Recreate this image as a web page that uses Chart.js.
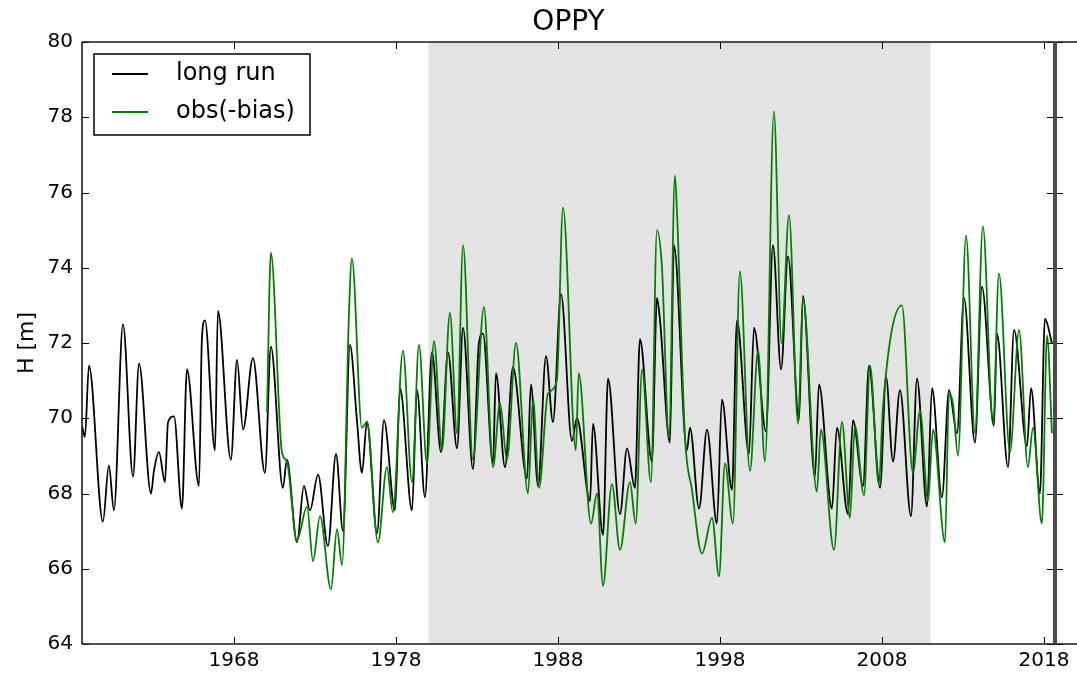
<!DOCTYPE html>
<html>
<head>
<meta charset="utf-8">
<title>OPPY</title>
<script src="https://cdn.jsdelivr.net/npm/chart.js@4/dist/chart.umd.min.js"></script>
<style>
  html, body { margin: 0; padding: 0; background: #fff; }
  #wrap { width: 1077px; height: 673px; }
</style>
</head>
<body>
<div id="wrap"><canvas id="chart" width="1077" height="673"></canvas></div>
<script>
const stationName = 'OPPY';
const yLabel = 'H [m]';
const xTickYears = [1968, 1978, 1988, 1998, 2008, 2018];
const yTicks = [64, 66, 68, 70, 72, 74, 76, 78, 80];
const xMin = 1958.62;
const xMax = 2018.68;
const shadeStart = 1980.0; // grey calibration period
const shadeEnd = 2011.0;

const longRunYears = [
  1958.62, 1958.80, 1959.05, 1959.91, 1960.28, 1960.59, 1961.15, 1961.77, 1962.14, 1962.88,
  1963.06, 1963.37, 1963.74, 1963.93, 1964.30, 1964.79, 1965.10, 1965.84, 1966.02, 1966.21,
  1966.83, 1967.01, 1967.81, 1968.19, 1968.56, 1969.17, 1969.91, 1970.28, 1971.02, 1971.27,
  1971.89, 1972.32, 1972.69, 1973.19, 1973.80, 1974.30, 1974.73, 1975.16, 1975.59, 1975.90,
  1976.21, 1976.83, 1977.26, 1977.94, 1978.25, 1978.99, 1979.30, 1979.79, 1980.22, 1980.78,
  1981.21, 1981.77, 1982.14, 1982.75, 1983.12, 1983.37, 1983.99, 1984.17, 1984.73, 1985.22,
  1986.09, 1986.33, 1986.77, 1987.26, 1987.69, 1988.19, 1988.86, 1989.17, 1989.98, 1990.16,
  1990.78, 1991.09, 1991.83, 1992.26, 1992.75, 1993.06, 1993.80, 1994.11, 1994.30, 1994.91,
  1995.16, 1995.96, 1996.15, 1996.71, 1997.20, 1997.81, 1998.12, 1998.74, 1999.05, 1999.79,
  2000.10, 2000.84, 2001.27, 2001.77, 2002.20, 2002.88, 2003.12, 2003.86, 2004.11, 2004.91,
  2005.22, 2005.90, 2006.21, 2006.83, 2007.20, 2007.88, 2008.25, 2008.68, 2009.11, 2009.79,
  2010.16, 2010.78, 2011.09, 2011.70, 2012.14, 2012.63, 2013.06, 2013.74, 2014.17, 2014.91,
  2015.10, 2015.78, 2016.15, 2016.95, 2017.20, 2017.75, 2018.06, 2018.49
];
const longRunLevels = [
  69.8, 69.5, 71.4, 67.25, 68.75, 67.55, 72.5, 68.45, 71.45, 68.0,
  68.6, 69.1, 68.3, 69.9, 70.05, 67.6, 71.3, 68.2, 72.1, 72.6,
  69.15, 72.85, 68.9, 71.55, 69.7, 71.6, 68.55, 71.9, 68.15, 68.9,
  66.7, 68.2, 67.55, 68.5, 66.6, 69.05, 67.0, 71.95, 69.95, 68.55,
  69.9, 66.95, 69.95, 67.55, 70.8, 67.55, 70.75, 67.9, 71.75, 69.1,
  71.75, 69.2, 72.4, 68.65, 72.0, 72.25, 68.8, 71.2, 68.7, 71.35,
  68.4, 70.9, 68.2, 71.65, 69.9, 73.3, 69.4, 70.0, 67.8, 69.85,
  66.9, 71.05, 67.45, 69.2, 68.15, 72.1, 68.85, 73.2, 72.6, 69.35,
  74.6, 69.15, 69.75, 67.6, 69.7, 67.2, 70.5, 68.1, 72.6, 69.05,
  72.4, 69.65, 74.6, 71.3, 74.3, 69.95, 73.25, 68.45, 70.9, 67.6,
  69.75, 67.45, 69.95, 68.2, 71.4, 68.15, 71.1, 68.85, 70.75, 67.4,
  71.05, 67.65, 70.8, 67.9, 70.75, 69.6, 73.2, 69.35, 73.5, 69.8,
  72.25, 68.7, 72.35, 69.25, 70.8, 68.0, 72.65, 72.0
];

// observations minus bias
const obsYears = [
  1970.04, 1970.28, 1970.96, 1971.27, 1971.89, 1972.51, 1972.88, 1973.31, 1973.99, 1974.36,
  1974.67, 1975.10, 1975.28, 1975.90, 1976.21, 1976.89, 1977.44, 1977.81, 1978.43, 1978.99,
  1979.42, 1979.91, 1980.35, 1980.84, 1981.33, 1981.77, 1982.14, 1982.75, 1983.43, 1983.99,
  1984.42, 1984.85, 1985.41, 1986.15, 1986.46, 1986.83, 1987.38, 1987.93, 1988.31, 1989.10,
  1989.28, 1990.04, 1990.41, 1990.78, 1991.33, 1991.83, 1992.44, 1992.80, 1993.19, 1993.74,
  1994.11, 1994.42, 1994.85, 1995.22, 1995.35, 1995.84, 1996.27, 1996.89, 1997.51, 1997.94,
  1998.31, 1998.80, 1999.23, 1999.85, 2000.35, 2000.78, 2001.33, 2001.80, 2002.26, 2002.82,
  2003.12, 2003.98, 2004.23, 2005.04, 2005.53, 2006.02, 2006.33, 2006.89, 2007.26, 2007.81,
  2008.06, 2009.23, 2009.91, 2010.35, 2010.84, 2011.15, 2011.89, 2012.14, 2012.38, 2012.69,
  2013.19, 2013.74, 2014.23, 2014.85, 2015.22, 2015.90, 2016.46, 2017.01, 2017.32, 2017.87,
  2018.19, 2018.49
];
const obsLevels = [
  70.15, 74.4, 69.1, 68.85, 66.75, 67.65, 66.2, 67.4, 65.45, 67.05,
  66.1, 72.8, 74.25, 69.75, 69.9, 66.7, 68.7, 67.5, 71.8, 68.3,
  71.95, 68.8, 72.05, 69.15, 72.8, 69.6, 74.6, 68.9, 72.95, 68.7,
  70.4, 68.9, 72.0, 68.0, 70.5, 68.15, 70.65, 71.0, 75.6, 69.15,
  71.2, 67.2, 68.0, 65.55, 68.25, 66.5, 68.3, 67.2, 71.3, 68.3,
  75.0, 74.0, 69.5, 76.45, 75.45, 69.5, 68.1, 66.4, 67.35, 65.8,
  68.8, 67.2, 73.9, 68.6, 71.8, 68.85, 78.15, 72.0, 75.4, 69.85,
  73.2, 68.05, 69.7, 66.5, 69.9, 67.35, 69.8, 67.95, 71.4, 68.25,
  70.3, 73.0, 68.55, 70.2, 67.8, 69.7, 66.7, 70.65, 70.4, 69.0,
  74.85, 69.6, 75.1, 69.85, 73.85, 69.1, 72.35, 68.7, 69.75, 67.2,
  72.2, 69.6
];

const FONT = '"DejaVu Sans", "Liberation Sans", sans-serif';

const toPoints = (xs, ys) => xs.map((x, i) => ({ x: x, y: ys[i] }));

const series = [
  { label: 'long run', color: '#000000', data: toPoints(longRunYears, longRunLevels), order: 1 },
  { label: 'obs(-bias)', color: '#008000', data: toPoints(obsYears, obsLevels), order: 0 }
];

// grey band, frame with inward ticks, title and the boxed legend
const framePlugin = {
  id: 'framePlugin',
  beforeDatasetsDraw(chart) {
    const { ctx, chartArea: a, scales: { x } } = chart;
    const x0 = x.getPixelForValue(shadeStart);
    const x1 = x.getPixelForValue(shadeEnd);
    ctx.save();
    ctx.fillStyle = '#e3e3e3';
    ctx.fillRect(x0, a.top, x1 - x0, a.bottom - a.top);
    ctx.restore();
  },
  afterDatasetsDraw(chart) {
    const { ctx, chartArea: a, scales: { x, y } } = chart;
    ctx.save();

    ctx.strokeStyle = '#000';
    ctx.lineWidth = 1;
    ctx.beginPath();
    xTickYears.forEach(v => {
      const px = Math.round(x.getPixelForValue(v)) + 0.5;
      ctx.moveTo(px, a.bottom); ctx.lineTo(px, a.bottom - 7);
      ctx.moveTo(px, a.top); ctx.lineTo(px, a.top + 7);
    });
    yTicks.forEach(v => {
      const py = Math.round(y.getPixelForValue(v)) + 0.5;
      ctx.moveTo(a.left, py); ctx.lineTo(a.left + 7, py);
      ctx.moveTo(a.right - 8, py); ctx.lineTo(a.right + 8, py);
    });
    ctx.stroke();

    // spines (top/bottom run on to the edge, like the cut-off second panel)
    ctx.strokeStyle = '#1a1a1a';
    ctx.lineWidth = 1.6;
    ctx.beginPath();
    ctx.moveTo(a.left, a.top); ctx.lineTo(chart.width, a.top);
    ctx.moveTo(a.left, a.bottom); ctx.lineTo(chart.width, a.bottom);
    ctx.moveTo(a.left, a.top); ctx.lineTo(a.left, a.bottom);
    ctx.stroke();
    ctx.strokeStyle = '#4a4a4a';
    ctx.lineWidth = 4;
    ctx.beginPath();
    ctx.moveTo(a.right, a.top); ctx.lineTo(a.right, a.bottom);
    ctx.stroke();

    // title centred over the axes
    ctx.fillStyle = '#000';
    ctx.font = '28px ' + FONT;
    ctx.textAlign = 'center';
    ctx.textBaseline = 'middle';
    ctx.fillText(stationName, (a.left + a.right) / 2, 23);

    // legend
    const lx = a.left + 12, ly = a.top + 12, lw = 216, lh = 81;
    ctx.fillStyle = '#fff';
    ctx.fillRect(lx, ly, lw, lh);
    ctx.strokeStyle = '#000';
    ctx.lineWidth = 1.5;
    ctx.strokeRect(lx, ly, lw, lh);
    ctx.font = '24px ' + FONT;
    ctx.textBaseline = 'middle';
    ctx.textAlign = 'left';
    series.forEach((s, i) => {
      const rowY = ly + 20 + i * 38;
      ctx.strokeStyle = s.color;
      ctx.lineWidth = 1.8;
      ctx.beginPath();
      ctx.moveTo(lx + 18, rowY); ctx.lineTo(lx + 54, rowY);
      ctx.stroke();
      ctx.fillStyle = '#000';
      ctx.fillText(s.label, lx + 82, rowY);
    });

    ctx.restore();
  }
};

new Chart(document.getElementById('chart').getContext('2d'), {
  type: 'line',
  data: {
    datasets: series.map(s => ({
      label: s.label,
      data: s.data,
      borderColor: s.color,
      backgroundColor: s.color,
      borderWidth: 1.8,
      pointRadius: 0,
      cubicInterpolationMode: 'monotone',
      order: s.order
    }))
  },
  options: {
    responsive: false,
    animation: false,
    layout: { padding: { left: 0, right: 22, top: 42, bottom: 0 } },
    plugins: {
      legend: { display: false },
      tooltip: { enabled: false },
      title: { display: false }
    },
    scales: {
      x: {
        type: 'linear',
        min: xMin,
        max: xMax,
        afterBuildTicks: scale => { scale.ticks = xTickYears.map(v => ({ value: v })); },
        afterFit: scale => { scale.height = 29; },
        grid: { display: false, drawTicks: false },
        border: { display: false },
        ticks: {
          color: '#000',
          padding: 5,
          maxRotation: 0,
          font: { family: FONT, size: 20 },
          callback: v => String(v)
        }
      },
      y: {
        min: 64,
        max: 80,
        afterBuildTicks: scale => { scale.ticks = yTicks.map(v => ({ value: v })); },
        afterFit: scale => { scale.width = 82; },
        grid: { display: false, drawTicks: false },
        border: { display: false },
        title: {
          display: true,
          text: yLabel,
          color: '#000',
          font: { family: FONT, size: 22 },
          padding: { top: 14 }
        },
        ticks: {
          color: '#000',
          padding: 9,
          font: { family: FONT, size: 20 }
        }
      }
    }
  },
  plugins: [framePlugin]
});
</script>
</body>
</html>
